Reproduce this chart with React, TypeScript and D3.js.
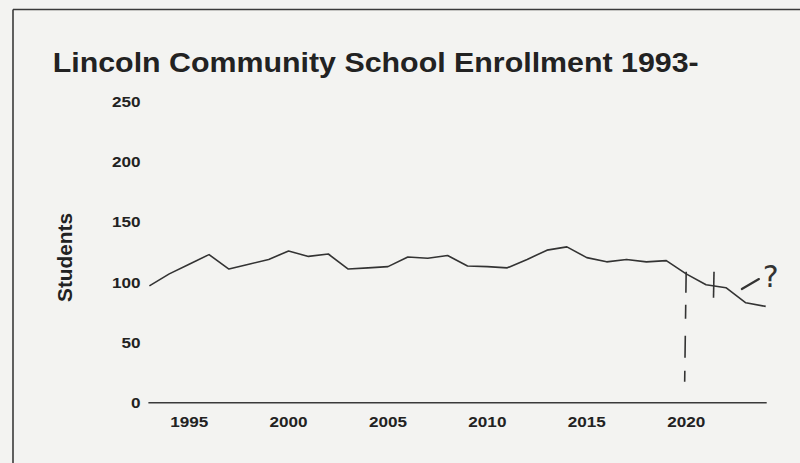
import React from "react";
import * as d3 from "d3";

const years: number[] = [
  1993, 1994, 1995, 1996, 1997, 1998, 1999, 2000, 2001, 2002, 2003, 2004, 2005, 2006, 2007, 2008,
  2009, 2010, 2011, 2012, 2013, 2014, 2015, 2016, 2017, 2018, 2019, 2020, 2021, 2022, 2023, 2024,
];
const students: number[] = [
  97, 107, 115, 123, 111, 115, 119, 126, 121.5, 123.5, 111, 112, 113, 121, 120, 122.3,
  113.5, 113, 112, 119, 126.7, 129.4, 120.5, 117, 119, 117, 118, 107, 98, 95.5, 83, 80,
];
const yTicks: number[] = [0, 50, 100, 150, 200, 250];
const xTicks: number[] = [1995, 2000, 2005, 2010, 2015, 2020];
const title = "Lincoln Community School Enrollment 1993-";
const yLabel = "Students";

// hand-drawn annotations, in data space
const dashYear = 2020;
const dashRange: number[] = [108.8, 17.4];
const crossYear = 2021.4;
const crossRange: number[] = [108.8, 87.2];
const slash: [number, number][] = [
  [2022.8, 94.4],
  [2023.66, 102.7],
];
const questionPos: [number, number] = [2024.25, 96.5];

export default function App() {
  const W = 800;
  const H = 463;
  const x = d3.scaleLinear().domain([1993, 2024]).range([149.4, 765.7]);
  const y = d3.scaleLinear().domain([0, 250]).range([402.7, 101.7]);
  const line = d3
    .line<number>()
    .x((_, i) => x(years[i]))
    .y((d) => y(d));
  const font = "'Liberation Sans', Arial, sans-serif";

  return (
    <svg
      width={W}
      height={H}
      style={{ position: "absolute", left: 0, top: 0, display: "block" }}
    >
      <rect x={0} y={0} width={W} height={H} fill="#f3f3f1" />
      {/* page frame */}
      <line x1={13} y1={9.5} x2={W} y2={9.5} stroke="#3a3a3a" strokeWidth={1.6} />
      <line x1={13} y1={9.5} x2={13} y2={H} stroke="#3a3a3a" strokeWidth={1.6} />

      <text
        x={52.7}
        y={72}
        fontFamily={font}
        fontWeight="bold"
        fontSize={28}
        fill="#222"
        textLength={646}
        lengthAdjust="spacingAndGlyphs"
      >
        {title}
      </text>

      {/* y tick labels */}
      {yTicks.map((t) => (
        <g key={"y" + t} transform={`translate(140.5,${y(t) + 5.2}) scale(1.18,1)`}>
          <text
            textAnchor="end"
            fontFamily={font}
            fontWeight="bold"
            fontSize={14.5}
            fill="#222"
          >
            {t}
          </text>
        </g>
      ))}

      {/* x axis */}
      <line
        x1={x(1993) - 1}
        x2={x(2024) + 1}
        y1={y(0)}
        y2={y(0)}
        stroke="#3a3a3a"
        strokeWidth={1.5}
      />
      {xTicks.map((t) => (
        <g key={"x" + t} transform={`translate(${x(t)},426.5) scale(1.18,1)`}>
          <text
            textAnchor="middle"
            fontFamily={font}
            fontWeight="bold"
            fontSize={14.5}
            fill="#222"
          >
            {t}
          </text>
        </g>
      ))}

      <g transform="translate(72,257.5) rotate(-90)">
        <text
          textAnchor="middle"
          fontFamily={font}
          fontWeight="bold"
          fontSize={20}
          fill="#222"
          textLength={89}
          lengthAdjust="spacingAndGlyphs"
        >
          {yLabel}
        </text>
      </g>

      <path
        d={line(students) || ""}
        fill="none"
        stroke="#333"
        strokeWidth={1.6}
        strokeLinejoin="round"
      />

      {/* handwritten annotations */}
      <line
        x1={x(dashYear)}
        x2={x(dashYear) - 1.5}
        y1={y(dashRange[0])}
        y2={y(dashRange[1])}
        stroke="#333"
        strokeWidth={1.6}
        strokeDasharray="21 12 14 17 22 13 12"
      />
      <line
        x1={x(crossYear)}
        x2={x(crossYear) - 0.5}
        y1={y(crossRange[0])}
        y2={y(crossRange[1])}
        stroke="#333"
        strokeWidth={1.6}
      />
      <line
        x1={x(slash[0][0])}
        y1={y(slash[0][1])}
        x2={x(slash[1][0])}
        y2={y(slash[1][1])}
        stroke="#333"
        strokeWidth={2.2}
        strokeLinecap="round"
      />
      <text
        x={x(questionPos[0])}
        y={y(questionPos[1])}
        textAnchor="middle"
        fontFamily="'DejaVu Sans', sans-serif"
        fontSize={30}
        fill="#333"
      >
        ?
      </text>
    </svg>
  );
}
